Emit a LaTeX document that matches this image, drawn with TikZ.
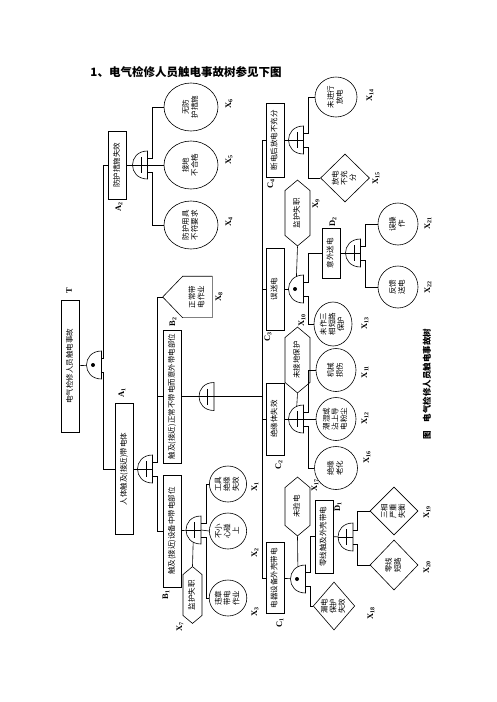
\documentclass[tikz,border=0pt]{standalone}
\usepackage{graphicx}
\usepackage{fontspec}
\setmainfont{Noto Sans CJK SC}
\newfontfamily\latn{Liberation Serif}
\usetikzlibrary{shapes.geometric,shapes.symbols}

\newcommand\vt[1]{\rotatebox{90}{\begin{tabular}{@{}c@{}}#1\end{tabular}}}
\newcommand\xl[1]{\rotatebox{90}{X\textsubscript{#1}}}
\newcommand\gateor[1]{%
  \draw[fill=white] (#1.north east) .. controls +(-20pt,0pt) and +(-20pt,0pt) .. (#1.south east) -- cycle;
  \draw (#1.west) -- (#1.east) ([xshift=1pt,yshift=8pt]#1.center) -- ([xshift=1pt,yshift=-8pt]#1.center);}
\newcommand\gateand[1]{%
  \draw[fill=white] (#1.north east) .. controls +(-20pt,0pt) and +(-20pt,0pt) .. (#1.south east) -- cycle;
  \fill ([xshift=-1pt]#1.center) circle (2pt);}

\begin{document}
\begin{tikzpicture}[x=1pt,y=-1pt,line width=0.6pt,
  every node/.style={font=\fontsize{7.5}{8.5}\selectfont},
  box/.style={draw,minimum width=18pt,inner sep=1pt},
  basic/.style={draw,ellipse,inner sep=0pt},
  hexa/.style={draw,signal,signal to=north and south,signal pointer angle=100,inner sep=1pt,minimum width=25pt},
  cond/.style={draw,diamond,inner sep=0pt},
  house/.style={minimum width=29pt,minimum height=41pt,inner sep=0pt},
  gate/.style={minimum width=15pt,minimum height=28pt,inner sep=0pt,outer sep=0pt},
  lab/.style={inner sep=0pt,font=\latn\bfseries\fontsize{8.5}{9}\selectfont}]
\useasboundingbox (0,0) rectangle (496,702);

\node[font=\bfseries\fontsize{11.5}{12}\selectfont] (title) at (186,72) {1、电气检修人员触电事故树参见下图};

% top event
\node[box,minimum height=132pt] (t) at (70.5,366) {\vt{电气检修人员触电事故}};
\node[lab] at (69,291) {\rotatebox{90}{T}};
\node[gate] (gt) at (94,365) {};

% A level
\node[box,minimum height=68pt] (a2) at (117.5,165) {\vt{防护措施失效}};
\node[lab] at (119,207) {\rotatebox{90}{A\textsubscript{2}}};
\node[gate] (ga2) at (140,165) {};
\node[box,minimum height=131pt] (a1) at (124.5,469) {\vt{人体触及(接近)带电体}};
\node[lab] at (122,393) {\rotatebox{90}{A\textsubscript{1}}};
\node[gate] (ga1) at (145,469) {};

% under A2
\node[basic,minimum width=54pt,minimum height=48pt] (x6) at (191,107) {\vt{无防\\护措施}};
\node[basic,minimum width=54pt,minimum height=48pt] (x5) at (191,165) {\vt{接地\\不合格}};
\node[basic,minimum width=54pt,minimum height=48pt] (x4) at (191,225) {\vt{防护用具\\不符要求}};
\node[lab] at (229,104) {\xl{6}};
\node[lab] at (229,160) {\xl{5}};
\node[lab] at (229,222) {\xl{4}};

% under A1
\node[house] (x8) at (197.5,297) {\vt{正常带\\电作业}};
\coordinate (x8tip) at ([xshift=-20pt]x8.west);
\draw (x8.south west) -- (x8tip) -- (x8.north west) -- (x8.north east);
\draw[gray,line width=1.1pt] (x8.north east) -- (x8.south east) -- (x8.south west);
\node[lab] at (219,297) {\xl{8}};
\node[box,minimum height=133pt] (b2) at (172.5,396.5) {\vt{触及(接近)正常不带电而意外带电部位}};
\node[lab] at (173,322) {\rotatebox{90}{B\textsubscript{2}}};
\node[gate] (gb2) at (206.5,396.5) {};
\node[box,minimum height=112pt] (b1) at (172.5,531) {\vt{触及(接近)设备中带电部位}};
\node[lab] at (166,595) {\rotatebox{90}{B\textsubscript{1}}};
\node[gate] (gb1) at (193.5,530) {};
\node[hexa,minimum width=19pt,minimum height=50pt] (x7) at (192.5,595) {\vt{监护失职}};
\node[lab] at (180,627) {\xl{7}};

% under B1
\node[basic,minimum width=32pt,minimum height=36pt] (x1) at (228,484) {\vt{工具\\绝缘\\失效}};
\node[basic,minimum width=32pt,minimum height=36pt] (x2) at (228,531) {\vt{不小\\心碰\\上}};
\node[basic,minimum width=32pt,minimum height=36pt] (x3) at (228,598) {\vt{违章\\带电\\作业}};
\node[lab] at (255,487) {\xl{1}};
\node[lab] at (255,553) {\xl{2}};
\node[lab] at (255,612) {\xl{3}};

% C level
\coordinate (cbus) at (262,396.5);
\node[box,minimum height=74pt] (c4) at (275,140) {\vt{断电后放电不充分}};
\node[lab] at (271,184) {\rotatebox{90}{C\textsubscript{4}}};
\node[box,minimum height=82pt] (c3) at (275,289) {\vt{误送电}};
\node[lab] at (268,337) {\rotatebox{90}{C\textsubscript{3}}};
\node[box,minimum height=72pt] (c2) at (275,419) {\vt{绝缘体失效}};
\node[lab] at (279,465) {\rotatebox{90}{C\textsubscript{2}}};
\node[box,minimum height=71pt] (c1) at (275,578) {\vt{电器设备外壳带电}};
\node[lab] at (280,623) {\rotatebox{90}{C\textsubscript{1}}};

% under C4
\node[gate] (gc4) at (296,140) {};
\node[basic,minimum width=42pt,minimum height=40pt] (x14) at (336,97) {\vt{未进行\\放电}};
\node[lab] at (370,95) {\xl{14}};
\node[cond,minimum width=49pt,minimum height=48pt] (x15) at (345,178) {\vt{放电\\不充\\分}};
\node[lab] at (376,178) {\xl{15}};

% under C3
\node[hexa,minimum height=54pt] (x9) at (297.5,213) {\vt{监护失职}};
\node[lab] at (316,204) {\xl{9}};
\node[gate] (gc3) at (296,289) {};
\node[box,minimum height=50pt] (d2) at (331,253) {\vt{意外送电}};
\node[lab] at (333,222) {\rotatebox{90}{D\textsubscript{2}}};
\node[basic,minimum width=38pt,minimum height=44pt] (x13) at (333,324) {\vt{未作三\\相短路\\保护}};
\node[lab] at (365,323) {\xl{13}};

% under C2
\node[hexa,minimum height=54pt] (x10) at (297.5,360) {\vt{未接地保护}};
\node[lab] at (302,320) {\xl{10}};
\node[gate] (gc2) at (296,419) {};
\node[basic,minimum width=40pt,minimum height=43pt] (x11) at (336,370) {\vt{机械\\损伤}};
\node[basic,minimum width=40pt,minimum height=43pt] (x12) at (336,419) {\vt{潮湿或\\沾上导\\电粉尘}};
\node[basic,minimum width=43pt,minimum height=43pt] (x16) at (336,468) {\vt{绝缘\\老化}};
\node[lab] at (365,372) {\xl{11}};
\node[lab] at (365,418) {\xl{12}};
\node[lab] at (367,457) {\xl{16}};

% under C1
\node[hexa,minimum height=47pt] (x17) at (297.5,506.5) {\vt{未验电}};
\node[lab] at (315,485) {\xl{17}};
\node[gate] (gc1) at (298,579) {};
\node[box,minimum height=73pt] (d1) at (324,536.5) {\vt{零线触及外壳带电}};
\node[lab] at (338,507) {\rotatebox{90}{D\textsubscript{1}}};
\node[cond,minimum width=36pt,minimum height=48pt] (x18) at (334,606) {\vt{漏电\\保护\\失效}};
\node[lab] at (371,613) {\xl{18}};
\node[gate] (gd1) at (345.5,537) {};
\node[cond,minimum width=48pt,minimum height=48pt] (x19) at (394,511) {\vt{三相\\严重\\失衡}};
\node[cond,minimum width=48pt,minimum height=50pt] (x20) at (394,565) {\vt{零线\\短路}};
\node[lab] at (427,512) {\xl{19}};
\node[lab] at (427,567) {\xl{20}};

% under D2
\node[gate] (gd2) at (353,253) {};
\node[basic,minimum width=40pt,minimum height=42pt] (x21) at (398,224) {\vt{误操\\作}};
\node[basic,minimum width=40pt,minimum height=42pt] (x22) at (398,287) {\vt{反馈\\送电}};
\node[lab] at (428,223) {\xl{21}};
\node[lab] at (428,287) {\xl{22}};

\node[font=\bfseries\fontsize{8.5}{9}\selectfont] (cap) at (427,384) {\rotatebox{90}{图\quad 电气检修人员触电事故树}};

% connectors
\draw (t) -- (gt);
\draw ([yshift=7pt]gt.east) -- ++(2,0) |- (a2.west);
\draw ([yshift=-7pt]gt.east) -- ++(2,0) |- (a1.west);
\draw (a2) -- (ga2);
\draw (ga2.east) -- (x5.west);
\draw ([yshift=7pt]ga2.east) -- ++(5,0) |- (x6.west);
\draw ([yshift=-7pt]ga2.east) -- ++(5,0) |- (x4.west);
\draw (a1) -- (ga1);
\draw ([yshift=7pt]ga1.east) -- ++(4.5,0) |- (x8tip);
\draw ([yshift=7pt]ga1.east) -- ++(4.5,0) |- (b2.west);
\draw ([yshift=-7pt]ga1.east) -- ++(4.5,0) |- (b1.west);
\draw (b2) -- (gb2);
\draw (gb2.east) -- (cbus);
\draw (cbus) |- (c4.west);
\draw (cbus) |- (c3.west);
\draw (cbus) |- (c2.west);
\draw (cbus) |- (c1.west);
\draw (b1) -- (gb1);
\draw (x7.north) -- (gb1.center);
\draw ([yshift=7pt]gb1.east) -- ++(5,0) |- (x1.west);
\draw (gb1.east) -- (x2.west);
\draw ([yshift=-7pt]gb1.east) -- ++(5,0) |- (x3.west);
\draw (c4) -- (gc4);
\draw ([yshift=7pt]gc4.east) -- ++(5,0) |- (x14.west);
\draw ([yshift=-7pt]gc4.east) -- ++(5,0) |- (x15.west);
\draw (c3) -- (gc3);
\draw (x9.south) -- (gc3.center);
\draw ([yshift=7pt]gc3.east) -- ++(5,0) |- (d2.west);
\draw ([yshift=-7pt]gc3.east) -- ++(5,0) |- (x13.west);
\draw (c2) -- (gc2);
\draw (x10.south) -- (gc2.center);
\draw ([yshift=7pt]gc2.east) -- ++(5,0) |- (x11.west);
\draw (gc2.east) -- (x12.west);
\draw ([yshift=-7pt]gc2.east) -- ++(5,0) |- (x16.west);
\draw (c1) -- (gc1);
\draw (x17.south) -- (gc1.center);
\draw ([yshift=7pt]gc1.east) -- ++(5,0) |- (d1.west);
\draw ([yshift=-7pt]gc1.east) -- ++(5,0) |- (x18.west);
\draw (d1) -- (gd1);
\draw ([yshift=7pt]gd1.east) -- ++(4,0) |- (x19.west);
\draw ([yshift=-7pt]gd1.east) -- ++(4,0) |- (x20.west);
\draw (d2) -- (gd2);
\draw ([yshift=7pt]gd2.east) -- ++(5,0) |- (x21.west);
\draw ([yshift=-7pt]gd2.east) -- ++(5,0) |- (x22.west);

% gates
\gateand{gt}
\gateor{ga2}
\gateor{ga1}
\gateor{gb2}
\gateor{gb1}
\gateor{gc4}
\gateand{gc3}
\gateor{gc2}
\gateand{gc1}
\gateor{gd1}
\gateor{gd2}
\end{tikzpicture}
\end{document}
